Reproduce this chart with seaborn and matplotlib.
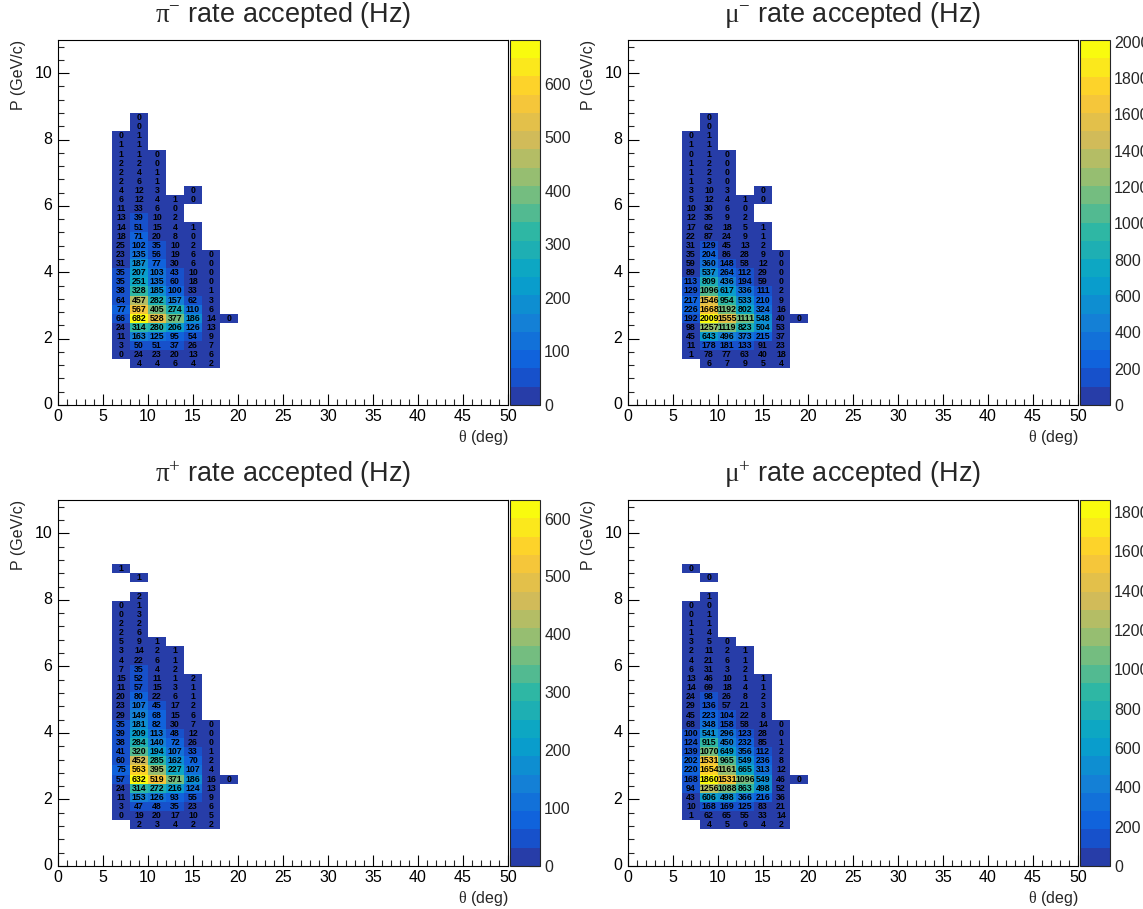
import numpy as np
import matplotlib
matplotlib.use("Agg")
import matplotlib.pyplot as plt
from matplotlib.colors import LinearSegmentedColormap, ListedColormap
from matplotlib.ticker import MultipleLocator, FuncFormatter
import seaborn as sns

# ---------------- binning ----------------
THETA_BIN = 2.0      # deg
P_BIN = 0.275        # GeV/c
N_THETA = 25         # 0..50 deg
N_P = 40             # 0..11 GeV/c
FIRST_ROW = 4        # first listed P bin (P = 1.1 GeV/c)
COL_THETA = [6, 8, 10, 12, 14, 16, 18]   # lower theta edge of each listed column
N = None             # empty bin

# ---------------- data: rate (Hz) per column, from P = 1.1 GeV/c upward ----------------
# pi- accepted
pim_th6 = [N, 0, 3, 11, 24, 66, 77, 64, 38, 35, 35, 31, 23, 25, 18, 14, 13, 11, 6, 4, 2, 2, 2, 1, 1, 0]
pim_th8 = [4, 24, 50, 163, 314, 682, 567, 457, 328, 251, 207, 187, 135, 102, 71, 51, 39, 33, 12, 12, 6, 4, 2, 1, 1, 1, 0, 0]
pim_th10 = [4, 23, 51, 125, 280, 528, 405, 282, 185, 135, 103, 77, 56, 35, 20, 15, 10, 6, 4, 3, 1, 1, 0, 0]
pim_th12 = [6, 20, 37, 95, 206, 377, 274, 157, 100, 60, 43, 30, 19, 10, 8, 4, 2, 0, 1]
pim_th14 = [4, 13, 26, 54, 126, 186, 110, 62, 33, 18, 10, 6, 6, 2, 0, 1, N, N, 0, 0]
pim_th16 = [2, 6, 7, 9, 13, 14, 6, 3, 1, 0, 0, 0, 0]
pim_th18 = [N, N, N, N, N, 0]

# mu- accepted
mum_th6 = [N, 1, 11, 45, 98, 192, 226, 217, 129, 113, 89, 59, 35, 31, 22, 17, 12, 10, 5, 3, 1, 1, 1, 0, 1, 0]
mum_th8 = [6, 78, 178, 643, 1257, 2009, 1668, 1546, 1096, 809, 537, 360, 204, 129, 87, 62, 35, 30, 12, 10, 3, 2, 2, 1, 1, 1, 0, 0]
mum_th10 = [7, 77, 181, 496, 1119, 1555, 1192, 954, 617, 436, 264, 148, 86, 45, 24, 18, 9, 6, 4, 3, 0, 0, 0, 0]
mum_th12 = [9, 63, 133, 373, 823, 1111, 802, 533, 336, 194, 112, 58, 28, 13, 9, 5, 2, 0, 1]
mum_th14 = [5, 40, 91, 215, 504, 548, 324, 210, 111, 59, 29, 12, 9, 2, 1, 1, N, N, 0, 0]
mum_th16 = [4, 18, 23, 37, 53, 40, 16, 9, 2, 0, 0, 0, 0]
mum_th18 = [N, N, N, N, N, 0]

# pi+ accepted
pip_th6 = [N, 0, 3, 11, 24, 57, 75, 60, 41, 38, 39, 35, 29, 23, 20, 11, 15, 7, 4, 3, 5, 2, 2, 0, 0, N, N, N, 1]
pip_th8 = [2, 19, 47, 153, 314, 632, 563, 452, 320, 284, 209, 181, 149, 107, 80, 57, 52, 35, 22, 14, 9, 6, 2, 3, 1, 2, N, 1]
pip_th10 = [3, 20, 48, 126, 272, 519, 395, 285, 194, 140, 113, 82, 68, 45, 22, 15, 11, 4, 6, 2, 1]
pip_th12 = [4, 17, 35, 93, 216, 371, 227, 162, 107, 72, 48, 30, 15, 17, 6, 3, 1, 2, 1, 1]
pip_th14 = [2, 10, 23, 55, 124, 186, 107, 70, 33, 26, 12, 7, 6, 2, 1, 1, 2]
pip_th16 = [2, 5, 6, 9, 13, 16, 4, 2, 1, 0, 0, 0]
pip_th18 = [N, N, N, N, N, 0]

# mu+ accepted
mup_th6 = [N, 1, 10, 43, 94, 168, 220, 202, 139, 124, 100, 68, 45, 29, 24, 14, 13, 6, 4, 2, 3, 1, 1, 0, 0, N, N, N, 0]
mup_th8 = [4, 62, 168, 606, 1256, 1860, 1654, 1531, 1070, 915, 541, 348, 223, 136, 98, 69, 46, 31, 21, 11, 5, 4, 1, 1, 0, 1, N, 0]
mup_th10 = [5, 65, 169, 498, 1088, 1531, 1161, 965, 649, 450, 296, 158, 104, 57, 26, 18, 10, 3, 6, 2, 0]
mup_th12 = [6, 55, 125, 366, 863, 1096, 665, 549, 356, 232, 123, 58, 22, 21, 8, 4, 1, 2, 1, 1]
mup_th14 = [4, 33, 83, 216, 498, 549, 313, 236, 112, 85, 28, 14, 8, 3, 2, 1, 1]
mup_th16 = [2, 14, 21, 36, 52, 46, 12, 8, 2, 1, 0, 0]
mup_th18 = [N, N, N, N, N, 0]

TITLES = [r"$\mathrm{\pi}^{-}$ rate accepted (Hz)", r"$\mathrm{\mu}^{-}$ rate accepted (Hz)",
          r"$\mathrm{\pi}^{+}$ rate accepted (Hz)", r"$\mathrm{\mu}^{+}$ rate accepted (Hz)"]


def build(columns):
    mat = np.full((N_P, N_THETA), np.nan)
    for th, col in zip(COL_THETA, columns):
        j = int(th / THETA_BIN)
        for k, v in enumerate(col):
            if v is not None:
                mat[FIRST_ROW + k, j] = v
    return mat


panels = [
    build([pim_th6, pim_th8, pim_th10, pim_th12, pim_th14, pim_th16, pim_th18]),
    build([mum_th6, mum_th8, mum_th10, mum_th12, mum_th14, mum_th16, mum_th18]),
    build([pip_th6, pip_th8, pip_th10, pip_th12, pip_th14, pip_th16, pip_th18]),
    build([mup_th6, mup_th8, mup_th10, mup_th12, mup_th14, mup_th16, mup_th18]),
]

# ---------------- style ----------------
sns.set_style("white")
plt.rcParams["font.family"] = ["Liberation Sans", "DejaVu Sans"]
plt.rcParams["mathtext.fontset"] = "custom"
plt.rcParams["mathtext.rm"] = "Liberation Serif"
plt.rcParams["mathtext.it"] = "Liberation Serif:italic"

# ROOT kBird palette, 20 contour levels
stops = [0.0, 0.125, 0.25, 0.375, 0.5, 0.625, 0.75, 0.875, 1.0]
red = [0.2082, 0.0592, 0.0780, 0.0232, 0.1802, 0.5301, 0.8186, 0.9956, 0.9764]
green = [0.1664, 0.3599, 0.5041, 0.6419, 0.7178, 0.7492, 0.7328, 0.7862, 0.9832]
blue = [0.5293, 0.8684, 0.8385, 0.7914, 0.6425, 0.4662, 0.3499, 0.1968, 0.0539]
bird = LinearSegmentedColormap.from_list("bird", list(zip(stops, zip(red, green, blue))), N=255)
NCONT = 20
bird20 = ListedColormap([bird(int((i + 0.99) * 255 / NCONT) / 254.0) for i in range(NCONT)])

W, H = 1143, 909
fig = plt.figure(figsize=(W / 100, H / 100), dpi=100)
fig.patch.set_facecolor("white")


def rect(l, t, r, b):
    return [l / W, 1 - b / H, (r - l) / W, (b - t) / H]


layout = [
    ((58, 40, 508, 405), (510, 40, 540, 405), 15, 100, 20),
    ((628, 40, 1078, 405), (1080, 40, 1110, 405), 15, 200, 40),
    ((58, 500, 508, 866), (510, 500, 540, 866), 475, 100, 20),
    ((628, 500, 1078, 866), (1080, 500, 1110, 866), 475, 200, 40),
]

LBL = 11.5
for mat, title, (arect, crect, ty, cmaj, cmin) in zip(panels, TITLES, layout):
    ax = fig.add_axes(rect(*arect))
    cax = fig.add_axes(rect(*crect))
    vmax = np.nanmax(mat)
    annot = np.where(np.isnan(mat), "", np.vectorize(lambda v: "" if np.isnan(v) else f"{int(v)}")(mat))
    sns.heatmap(mat, ax=ax, cmap=bird20, vmin=0, vmax=vmax, mask=np.isnan(mat),
                annot=annot, fmt="", cbar=False, linewidths=0,
                annot_kws={"color": "black", "fontsize": 6.3, "fontweight": "bold"})
    ax.set_xlim(0, N_THETA)
    ax.set_ylim(0, N_P)
    for s in ax.spines.values():
        s.set_visible(True)
        s.set_color("black")
        s.set_linewidth(0.8)
    ax.xaxis.set_major_locator(MultipleLocator(5 / THETA_BIN))
    ax.xaxis.set_minor_locator(MultipleLocator(1 / THETA_BIN))
    ax.xaxis.set_major_formatter(FuncFormatter(lambda v, p: f"{v * THETA_BIN:.0f}"))
    ax.yaxis.set_major_locator(MultipleLocator(2 / P_BIN))
    ax.yaxis.set_minor_locator(MultipleLocator(0.4 / P_BIN))
    ax.yaxis.set_major_formatter(FuncFormatter(lambda v, p: f"{v * P_BIN:.0f}"))
    ax.tick_params(axis="both", which="major", direction="in", length=8, width=0.8,
                   labelsize=LBL, top=False, right=False, bottom=True, left=True,
                   labelrotation=0, colors="black")
    ax.tick_params(axis="both", which="minor", direction="in", length=4, width=0.8,
                   top=False, right=False, bottom=True, left=True)
    ax.tick_params(axis="x", which="major", pad=3)
    ax.tick_params(axis="y", which="major", pad=4)
    ax.set_xlabel(r"$\mathrm{\theta}$ (deg)", fontsize=LBL, ha="right", va="top")
    ax.xaxis.set_label_coords(1.0, -0.062)
    ax.set_ylabel("P (GeV/c)", fontsize=LBL, ha="right", va="bottom")
    ax.yaxis.set_label_coords(-0.072, 1.0)

    cb = fig.colorbar(ax.collections[0], cax=cax)
    cb.outline.set_linewidth(0.8)
    cax.yaxis.set_major_locator(MultipleLocator(cmaj))
    cax.yaxis.set_minor_locator(MultipleLocator(cmin))
    cax.yaxis.set_major_formatter(FuncFormatter(lambda v, p: f"{v:.0f}"))
    cax.tick_params(which="major", direction="in", length=8, width=0.8, labelsize=LBL,
                    right=True, left=False, pad=3)
    cax.tick_params(which="minor", direction="in", length=4, width=0.8, right=True, left=False)

    cx = (arect[0] + arect[2]) / 2
    fig.text(cx / W, 1 - ty / H, title, fontsize=19.5, ha="center", va="center")

fig.savefig("out.png", dpi=100)
